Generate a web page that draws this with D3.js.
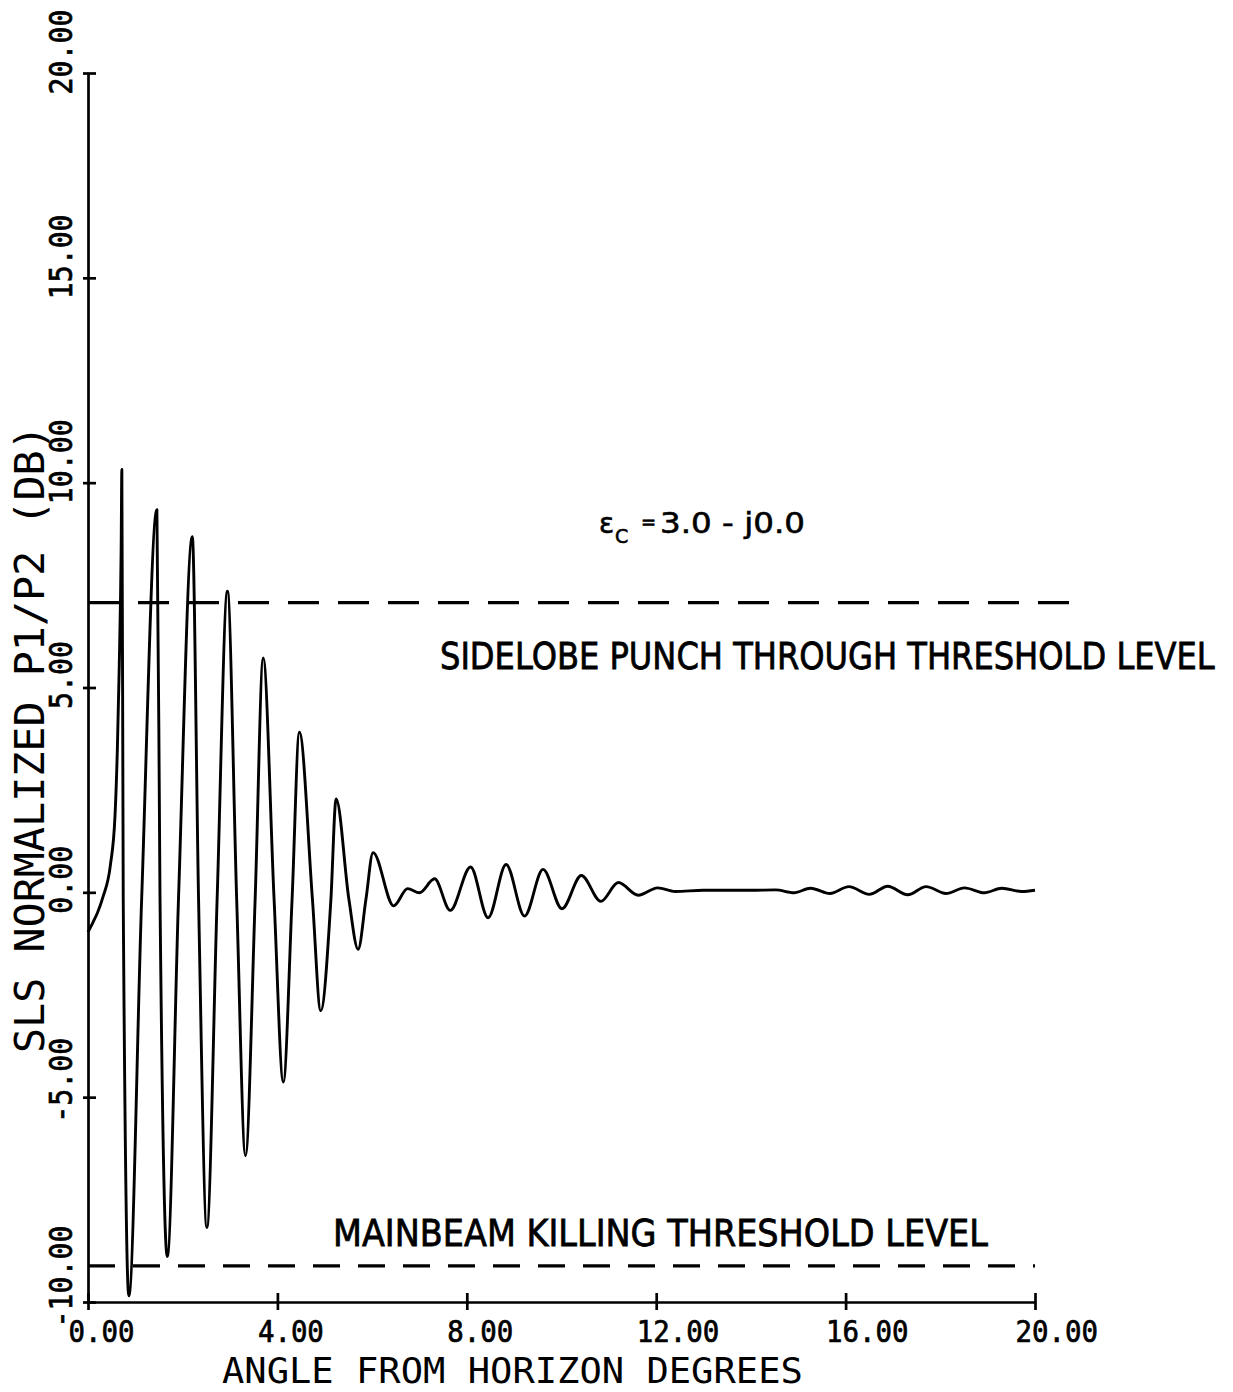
<!DOCTYPE html>
<html>
<head>
<meta charset="utf-8">
<script src="https://cdn.jsdelivr.net/npm/d3@7"></script>
<style>
  body { margin: 0; background: #fff; }
  svg { display: block; }
</style>
</head>
<body>
<svg width="1233" height="1392"></svg>
<script>
  // data
  var angleDeg = [0.00, 0.11, 0.20, 0.32, 0.47, 0.57, 0.62, 0.66, 0.70, 0.715,
    0.744, 0.862, 1.133, 1.455, 1.521, 1.674, 1.911, 2.203, 2.335, 2.51,
    2.727, 2.945, 3.14, 3.326, 3.53, 3.70, 3.93, 4.125, 4.31, 4.464,
    4.74, 4.915, 5.13, 5.24, 5.51, 5.705, 5.87, 6.02, 6.455, 6.75,
    7.00, 7.32, 7.65, 8.08, 8.45, 8.83, 9.22, 9.61, 10.01, 10.42,
    10.83, 11.20, 11.62, 12.03, 12.40, 13.00, 14.00, 14.52, 14.91, 15.26,
    15.67, 16.07, 16.50, 16.89, 17.31, 17.70, 18.12, 18.51, 18.93, 19.30,
    19.72, 20.00];
  var ratioDb = [-0.97, -0.72, -0.50, -0.10, 0.64, 1.86, 3.49, 5.52, 8.37, 10.32,
    -0.17, -9.85, -0.17, 9.34, -0.17, -8.89, -0.17, 8.68, -0.17, -8.18,
    -0.17, 7.35, -0.17, -6.43, -0.17, 5.72, -0.17, -4.63, -0.17, 3.91,
    -0.17, -2.89, -0.17, 2.28, -0.17, -1.39, -0.17, 0.97, -0.33, 0.09,
    -0.01, 0.33, -0.44, 0.62, -0.62, 0.68, -0.58, 0.56, -0.40, 0.41,
    -0.22, 0.24, -0.07, 0.11, 0.02, 0.05, 0.05, 0.06, -0.01, 0.10,
    -0.03, 0.14, -0.05, 0.15, -0.06, 0.14, -0.03, 0.11, -0.01, 0.10,
    0.02, 0.05];

  var xTicks = [0, 4, 8, 12, 16, 20];
  var yTicks = [-10, -5, 0, 5, 10, 15, 20];
  var sidelobeLevel = 7.07;   // dB
  var mainbeamLevel = -9.12;  // dB

  var svg = d3.select('svg');

  var x = d3.scaleLinear().domain([0, 20]).range([88, 1035]);
  var y = d3.scaleLinear().domain([-10, 20]).range([1302, 73]);

  var fmt = function (v) { return v.toFixed(2); };
  var mono = '"DejaVu Sans Mono", "Liberation Mono", monospace';
  var sans = '"DejaVu Sans", "Liberation Sans", sans-serif';

  // squeeze a text to a given width (font size sets the cap height)
  function fit(sel, width, pre) {
    sel.each(function (d) {
      var w = this.getComputedTextLength();
      var tw = typeof width === 'function' ? width(d) : width;
      var p = typeof pre === 'function' ? pre(d) : (pre || '');
      d3.select(this).attr('transform', p + ' scale(' + (tw / w) + ',1)');
    });
  }

  // threshold lines
  svg.append('line')
    .attr('x1', x(0)).attr('x2', 1070)
    .attr('y1', y(sidelobeLevel)).attr('y2', y(sidelobeLevel))
    .attr('stroke', '#000').attr('stroke-width', 3.2)
    .attr('stroke-dasharray', '31,19');

  svg.append('line')
    .attr('x1', x(0)).attr('x2', x(20))
    .attr('y1', y(mainbeamLevel)).attr('y2', y(mainbeamLevel))
    .attr('stroke', '#000').attr('stroke-width', 3.2)
    .attr('stroke-dasharray', '27,18');

  // curve
  var pts = angleDeg.map(function (a, i) { return [a, ratioDb[i]]; });
  var line = d3.line()
    .x(function (d) { return x(d[0]); })
    .y(function (d) { return y(d[1]); })
    .curve(d3.curveMonotoneX);

  svg.append('path')
    .datum(pts)
    .attr('d', line)
    .attr('fill', 'none')
    .attr('stroke', '#000')
    .attr('stroke-width', 2.9)
    .attr('stroke-linejoin', 'round');

  // y axis
  var yAxis = svg.append('g')
    .attr('transform', 'translate(' + x(0) + ',0)')
    .call(d3.axisLeft(y).tickValues(yTicks).tickSizeOuter(0).tickFormat(fmt));
  yAxis.select('.domain').attr('stroke-width', 2.7);
  yAxis.selectAll('.tick line').attr('x1', -5).attr('x2', 8).attr('stroke-width', 2.7);
  yAxis.selectAll('.tick text')
    .attr('x', 0).attr('y', 0).attr('dy', 0)
    .attr('text-anchor', 'start')
    .attr('font-family', mono)
    .attr('font-size', 32)
    .attr('fill', '#000')
    .attr('stroke', '#000').attr('stroke-width', 0.7)
    .call(fit, function (d) { return fmt(d).length * 17; }, function (d) {
      return 'rotate(-90) translate(' + (d < 0 ? -25 : -21) + ',-16)';
    });

  // x axis
  var xAxis = svg.append('g')
    .attr('transform', 'translate(0,' + y(-10) + ')')
    .call(d3.axisBottom(x).tickValues(xTicks).tickSizeOuter(0).tickFormat(fmt));
  xAxis.select('.domain').attr('stroke-width', 2.7);
  xAxis.selectAll('.tick line').attr('y1', -9).attr('y2', 8).attr('stroke-width', 2.7);
  xAxis.selectAll('.tick text')
    .attr('x', 0).attr('y', 0).attr('dy', 0)
    .attr('text-anchor', 'start')
    .attr('font-family', mono)
    .attr('font-size', 30)
    .attr('fill', '#000')
    .attr('stroke', '#000').attr('stroke-width', 0.7)
    .call(fit, function (d) { return fmt(d).length * 16.5; }, 'translate(-20,40)');

  // axis titles
  svg.append('text')
    .attr('font-family', mono).attr('font-size', 35)
    .text('ANGLE FROM HORIZON DEGREES')
    .call(fit, 581, 'translate(222,1383)');

  svg.append('text')
    .attr('font-family', mono).attr('font-size', 40)
    .text('SLS NORMALIZED P1/P2 (DB)')
    .call(fit, 628, 'translate(44,1053) rotate(-90)');

  // annotations
  svg.append('text')
    .attr('font-family', sans).attr('font-size', 37)
    .attr('stroke', '#000').attr('stroke-width', 0.8)
    .text('SIDELOBE  PUNCH THROUGH THRESHOLD  LEVEL')
    .call(fit, 775, 'translate(440,669)');

  svg.append('text')
    .attr('font-family', sans).attr('font-size', 37)
    .attr('stroke', '#000').attr('stroke-width', 0.8)
    .text('MAINBEAM  KILLING  THRESHOLD  LEVEL')
    .call(fit, 655, 'translate(333,1246)');

  var eps = svg.append('g').attr('font-family', sans)
    .attr('stroke', '#000').attr('stroke-width', 0.6);
  eps.append('text').attr('x', 599).attr('y', 533).attr('font-size', 28).text('ε');
  eps.append('text').attr('x', 615).attr('y', 543).attr('font-size', 19).text('C');
  eps.append('text').attr('x', 641).attr('y', 528).attr('font-size', 18).text('=');
  eps.append('text').attr('font-size', 29)
    .text('3.0 - j0.0')
    .call(fit, 145, 'translate(660,533)');
</script>
</body>
</html>
